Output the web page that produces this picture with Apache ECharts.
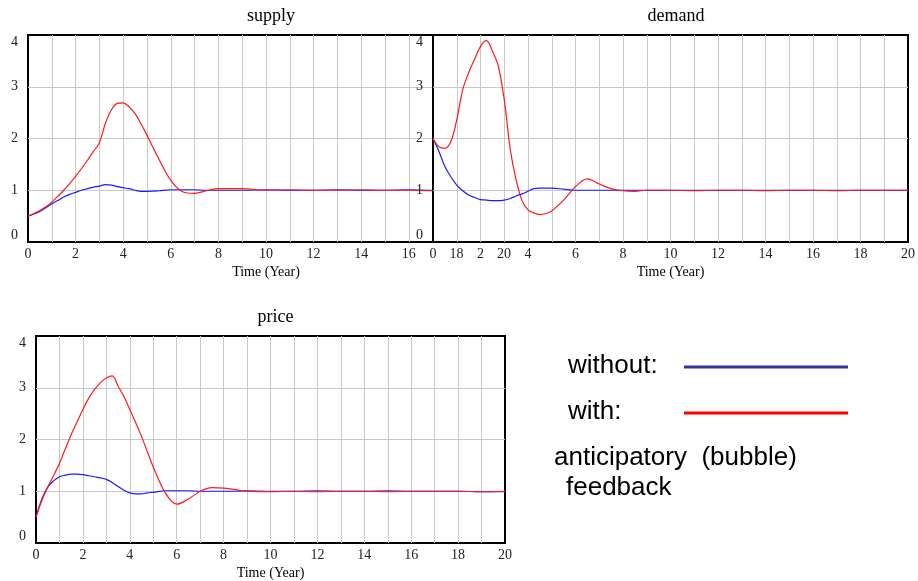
<!DOCTYPE html>
<html>
<head>
<meta charset="utf-8">
<script src="https://cdn.jsdelivr.net/npm/echarts@6/dist/echarts.min.js"></script>
<style>
html,body{margin:0;padding:0;background:#fff;}
#c{width:918px;height:581px;}
</style>
</head>
<body>
<div id="c"></div>
<script>
// ---- data ----
var times = [0,0.25,0.5,0.75,1,1.25,1.5,1.75,2,2.25,2.5,2.75,3,3.25,3.5,3.75,4,4.25,4.5,4.75,5,5.5,6,6.5,7,7.5,8,8.5,9,10,11,12,13,14,15,16,17,18,19,20];
var yTicks = [0,1,2,3,4];
var xTickLabels = [0,2,4,6,8,10,12,14,16,18,20];

var supplyWithout = [0.50,0.54,0.59,0.66,0.74,0.80,0.87,0.92,0.96,1.00,1.03,1.06,1.08,1.11,1.10,1.07,1.05,1.03,1.00,0.98,0.98,0.99,1.01,1.01,1.01,1.00,1.00,1.00,1.00,1.01,1.00,1.00,1.01,1.00,1.00,1.01,1.00,1.00,1.00,1.00];
var supplyWith    = [0.50,0.55,0.61,0.68,0.77,0.88,1.00,1.13,1.27,1.42,1.58,1.75,1.92,2.29,2.55,2.68,2.69,2.61,2.48,2.28,2.06,1.60,1.19,0.97,0.94,0.99,1.03,1.03,1.03,1.00,1.01,1.00,1.00,1.01,1.00,1.00,0.99,1.00,1.00,1.00];

var demandWithout = [2.00,1.75,1.46,1.26,1.10,0.99,0.91,0.86,0.82,0.81,0.80,0.80,0.81,0.84,0.89,0.93,0.98,1.03,1.04,1.04,1.04,1.02,1.00,1.00,1.00,1.00,1.00,1.00,1.00,1.00,1.00,1.00,1.00,1.00,1.00,1.00,1.00,1.00,1.00,1.00];
var demandWith    = [2.00,1.84,1.81,1.94,2.36,2.94,3.27,3.53,3.78,3.89,3.69,3.40,2.75,1.80,1.20,0.80,0.62,0.56,0.53,0.55,0.60,0.81,1.07,1.22,1.12,1.03,0.99,0.98,1.00,1.00,0.99,1.00,1.00,0.99,1.00,1.00,0.99,1.00,1.00,1.00];

var priceWithout  = [0.50,0.85,1.08,1.20,1.28,1.31,1.33,1.33,1.32,1.30,1.28,1.26,1.23,1.17,1.09,1.02,0.97,0.95,0.95,0.97,0.98,1.01,1.01,1.01,1.00,1.00,1.00,1.00,1.01,1.00,1.00,1.01,1.00,1.00,1.01,1.00,1.00,1.00,0.99,0.99];
var priceWith     = [0.50,0.82,1.08,1.30,1.54,1.82,2.09,2.34,2.58,2.80,2.97,3.10,3.19,3.23,3.03,2.83,2.58,2.33,2.06,1.76,1.47,0.98,0.75,0.85,1.00,1.07,1.06,1.03,1.00,0.99,1.00,0.99,1.00,1.00,0.99,1.00,1.00,1.00,0.99,1.00];

var titles = ['supply','demand','price'];
var xName = 'Time (Year)';
var legendLabels = ['without:','with:','anticipatory  (bubble)','feedback'];

function pairs(vals){ return times.map(function(t,i){ return [t, vals[i]]; }); }

var serif = 'Liberation Serif';
var gridDefs = [
  {left:28, top:35, width:476, height:207, z:0},
  {left:433, top:35, width:476, height:207, z:5},
  {left:36, top:336, width:469, height:207, z:10}
];
var grids = gridDefs.map(function(g){
  return {left:g.left, top:g.top, width:g.width, height:g.height, show:true,
          backgroundColor:'#fff', borderColor:'#000', borderWidth:2, z:g.z};
});
function xAxisFor(i){
  return {
    type:'value', gridIndex:i, min:0, max:20, interval:1, z:gridDefs[i].z+1,
    name:xName, nameLocation:'middle', nameGap:23,
    nameTextStyle:{fontFamily:serif, fontSize:14, color:'#000'},
    axisLine:{show:false}, axisTick:{show:false},
    axisLabel:{margin:5, fontFamily:serif, fontSize:14, color:'#222',
      formatter:function(v){ return xTickLabels.indexOf(v) >= 0 ? String(v) : ''; }},
    splitLine:{show:true, showMinLine:false, showMaxLine:false, lineStyle:{color:'#c8c8c8', width:1}}
  };
}
function yAxisFor(i){
  return {
    type:'value', gridIndex:i, min:yTicks[0], max:yTicks[yTicks.length-1], interval:1, z:gridDefs[i].z+1,
    axisLine:{show:false}, axisTick:{show:false},
    axisLabel:{margin:10, fontFamily:serif, fontSize:14, color:'#222',
      verticalAlignMaxLabel:'top', verticalAlignMinLabel:'bottom'},
    splitLine:{show:true, showMinLine:false, showMaxLine:false, lineStyle:{color:'#c8c8c8', width:1}}
  };
}
function line(i, vals, color){
  return {type:'line', xAxisIndex:i, yAxisIndex:i, data:pairs(vals), showSymbol:false, symbol:'none',
    smooth:0.35, z:gridDefs[i].z+2, lineStyle:{color:color, width:1.2}, itemStyle:{color:color}, animation:false};
}
var blue = '#1a1aff', red = '#ff1a1a';

var option = {
  animation:false,
  title: titles.map(function(t,i){
    var g = gridDefs[i];
    return {text:t, left:g.left + g.width/2, top: g.top - 33, textAlign:'center',
      textStyle:{fontFamily:serif, fontSize:18, fontWeight:'normal', color:'#000'}};
  }),
  grid: grids,
  xAxis: [xAxisFor(0), xAxisFor(1), xAxisFor(2)],
  yAxis: [yAxisFor(0), yAxisFor(1), yAxisFor(2)],
  series: [
    line(0, supplyWithout, blue), line(0, supplyWith, red),
    line(1, demandWithout, blue), line(1, demandWith, red),
    line(2, priceWithout, blue), line(2, priceWith, red)
  ],
  graphic: [
    {type:'text', left:568, top:353, style:{text:legendLabels[0], font:'26px "Liberation Sans"', fill:'#000'}},
    {type:'line', shape:{x1:684, y1:367, x2:848, y2:367}, style:{stroke:'#333399', lineWidth:3}},
    {type:'text', left:568, top:399, style:{text:legendLabels[1], font:'26px "Liberation Sans"', fill:'#000'}},
    {type:'line', shape:{x1:684, y1:413, x2:848, y2:413}, style:{stroke:'#ff0000', lineWidth:3}},
    {type:'text', left:554, top:445, style:{text:legendLabels[2], font:'26px "Liberation Sans"', fill:'#000'}},
    {type:'text', left:566, top:475, style:{text:legendLabels[3], font:'26px "Liberation Sans"', fill:'#000'}}
  ]
};
var chart = echarts.init(document.getElementById('c'), null, {renderer:'canvas'});
chart.setOption(option);
</script>
</body>
</html>
